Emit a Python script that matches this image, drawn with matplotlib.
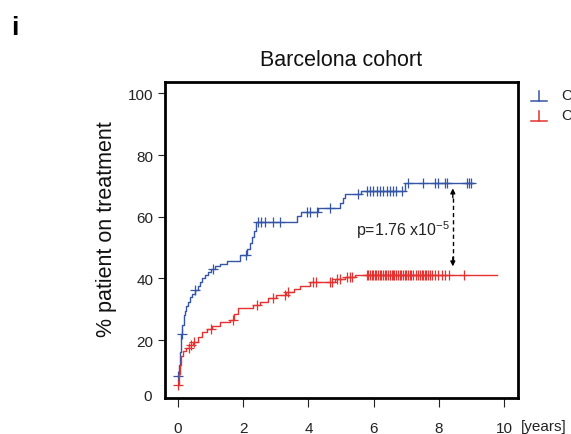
import numpy as np
import matplotlib
matplotlib.use("Agg")
import matplotlib.pyplot as plt
from matplotlib.lines import Line2D

plt.rcParams['font.family'] = ['Liberation Sans', 'DejaVu Sans']
plt.rcParams['mathtext.default'] = 'regular'

# ---------------- data ----------------
blue_t = [0, 0.02, 0.05, 0.08, 0.10, 0.13, 0.17, 0.20, 0.25, 0.30, 0.36, 0.44, 0.52,
          0.60, 0.67, 0.74, 0.82, 0.92, 1.02, 1.12, 1.28, 1.50, 1.90, 2.12, 2.20,
          2.27, 2.33, 2.40, 3.64, 3.76, 4.30, 4.98, 5.05, 5.12, 5.60, 6.96]
blue_v = [8.5, 12, 16, 19.5, 22, 25, 28, 29.5, 31, 32.5, 34, 35, 36.2,
          37.5, 38.7, 40, 41, 42, 43, 44, 44.8, 45.7, 47.6, 49.5, 51.5,
          53.5, 55.5, 58.3, 60.3, 61.4, 63, 64.5, 66, 67.4, 68.4, 70.9]
blue_end = 9.06
blue_cens = [0, 0.11, 0.52, 1.06, 2.10, 2.46, 2.56, 2.67, 2.92, 3.13, 3.95, 4.05,
             4.25, 4.66, 5.53, 5.79, 5.89, 5.99, 6.09, 6.20, 6.30, 6.40, 6.50,
             6.60, 6.70, 6.86, 7.06, 7.52, 7.88, 7.99, 8.19, 8.25, 8.86, 8.94, 9.00]

red_t = [0, 0.03, 0.06, 0.10, 0.15, 0.25, 0.35, 0.45, 0.60, 0.75, 0.90, 1.05,
         1.30, 1.60, 1.72, 1.85, 2.30, 2.50, 2.75, 3.00, 3.30, 3.55, 3.75, 4.05,
         4.82, 5.12, 5.43]
red_v = [5.5, 9, 12, 15, 16.5, 17.5, 18.5, 19.5, 21, 22.5, 23.5, 24.5,
         25.8, 26.5, 28.5, 30.3, 31.5, 32.5, 33.5, 34.5, 35.5, 36.5, 37.6, 38.7,
         39.8, 40.4, 41.1]
red_end = 9.78
red_cens = [0, 0.33, 0.41, 0.49, 1.00, 1.70, 2.43, 2.91, 3.28, 3.38, 4.15, 4.23,
            4.66, 4.71, 4.87, 4.97, 5.19, 5.28, 5.34,
            5.79, 5.84, 5.88, 5.94, 5.99, 6.04, 6.08, 6.14, 6.19, 6.24, 6.29,
            6.35, 6.39, 6.44, 6.50, 6.55, 6.60, 6.64, 6.70, 6.75, 6.80, 6.85,
            6.91, 6.96, 7.00, 7.06, 7.12, 7.16, 7.22, 7.31, 7.36, 7.42, 7.47,
            7.52, 7.57, 7.62, 7.68, 7.72, 7.78, 7.88, 7.98, 8.09, 8.19, 8.30, 8.78]

x_ticks = [0, 2, 4, 6, 8, 10]
y_ticks = [20, 40, 60, 80, 100]
title = "Barcelona cohort"
ylabel = "% patient on treatment"
legend_labels = ["Carriers", "Controls"]
p_text = "p=1.76 x10$^{-5}$"
arrow_x, arrow_top, arrow_bot = 8.43, 69.2, 43.9

BLUE = "#3555a6"
RED = "#e5312f"

# ---------------- figure ----------------
fig = plt.figure(figsize=(5.71, 4.35), dpi=100)
ax = fig.add_axes([165/571, 1-399/435, (518-165)/571, (399-83)/435])


def step_val(ts, vs, x):
    idx = np.searchsorted(ts, x, side='right') - 1
    return np.asarray(vs)[np.clip(idx, 0, len(vs)-1)]


for ts, vs, end, cens, col in [(blue_t, blue_v, blue_end, blue_cens, BLUE),
                               (red_t, red_v, red_end, red_cens, RED)]:
    tt = list(ts) + [end]
    vv = list(vs) + [vs[-1]]
    ax.step(tt, vv, where='post', color=col, lw=1.0)
    cy = step_val(np.array(ts), vs, np.array(cens))
    ax.plot(cens, cy, ls='none', marker='+', color=col, ms=7, mew=0.9)

# dashed double arrow
ax.plot([arrow_x, arrow_x], [arrow_bot + 2.0, arrow_top - 2.0], color='black',
        ls=(0, (3, 2.2)), lw=1.0)
for tip, tail in [(arrow_top, arrow_top - 3.0), (arrow_bot, arrow_bot + 3.0)]:
    ax.annotate('', xy=(arrow_x, tip), xytext=(arrow_x, tail),
                arrowprops=dict(arrowstyle='-|>', color='black', lw=1.0,
                                mutation_scale=7, shrinkA=0, shrinkB=0))
ax.text(5.46, 55.9, p_text, ha='left', va='center', fontsize=11.5, color='#222222')

ax.set_xlim(-0.40, 10.43)
ax.set_ylim(1.23, 103.7)
ax.set_xticks(x_ticks)
ax.set_yticks(y_ticks)
ax.tick_params(axis='x', direction='out', length=6.5, width=0.8, pad=10,
               labelsize=11, colors='#222222')
ax.tick_params(axis='y', direction='out', length=5, width=0.8, pad=3.5,
               labelsize=11, colors='#222222')
for s in ax.spines.values():
    s.set_linewidth(2.0)
    s.set_color('black')

# "0" label at the bottom spine
ax.text(-0.038, 2.0, "0", transform=ax.get_yaxis_transform(), ha='right',
        va='center', fontsize=11, color='#222222')
ax.text(1.008, -0.0886, "[years]", transform=ax.transAxes, ha='left',
        va='center', fontsize=11, color='#222222')

ax.set_ylabel(ylabel, fontsize=15.5, color='#111111')
ax.yaxis.set_label_coords(-0.135, 0.538)
fig.text(341/571, 1-60/435, title, ha='center', va='center', fontsize=15.5,
         color='#111111')
fig.text(15/571, 1-28/435, "i", ha='center', va='center', fontsize=19,
         fontweight='bold')

# legend (outside, cut by figure edge as in the reference)
for (yc, col, lab) in [(101.5, BLUE, legend_labels[0]), (121.5, RED, legend_labels[1])]:
    fy = 1 - yc/435
    fig.add_artist(Line2D([531/571, 547/571], [fy, fy], color=col, lw=1.1,
                          transform=fig.transFigure))
    fig.add_artist(Line2D([539/571, 539/571], [fy, fy + 10/435], color=col, lw=1.1,
                          transform=fig.transFigure))
    fig.text(561/571, fy + 6/435, lab, ha='left', va='center', fontsize=11,
             color='#222222')

fig.savefig("out.png", dpi=100)
